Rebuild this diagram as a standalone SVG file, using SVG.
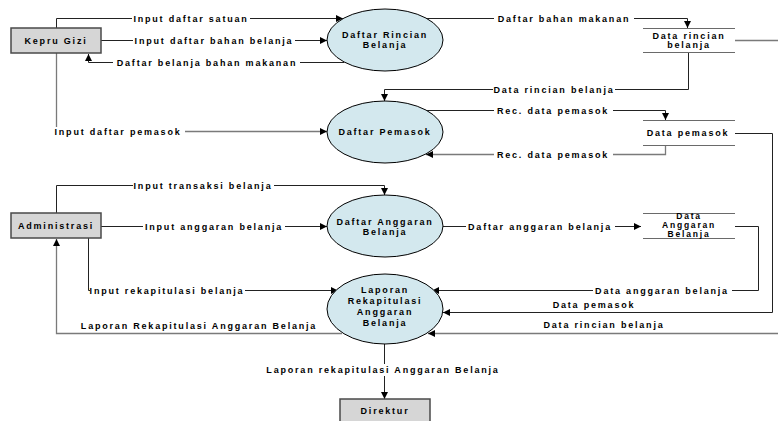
<svg xmlns="http://www.w3.org/2000/svg" width="778" height="421" viewBox="0 0 778 421">
<style>
text{font-family:"Liberation Sans",Arial,sans-serif;font-weight:bold;font-size:9px;letter-spacing:1.8px;fill:#000;text-anchor:middle}
.bg{fill:#fff;stroke:none}
.proc{fill:#d3e8ee;stroke:#000;stroke-width:1}
.ent{fill:#d6d6d6;stroke:#4a4a4a;stroke-width:1.5}
.store{stroke:#6a6a6a;stroke-width:1;fill:none}
.c{fill:none;stroke:#222;stroke-width:1}
.g{fill:none;stroke:#7a7a7a;stroke-width:1.3}
.a{marker-end:url(#arr)}
</style>
<defs>
<marker id="arr" markerUnits="userSpaceOnUse" markerWidth="8" markerHeight="7" refX="7" refY="3.5" orient="auto">
<path d="M0,0 L7,3.5 L0,7 z" fill="#000"/>
</marker>
</defs>

<g id="connectors">
<path class="c a" d="M56.5,28 V18.5 H343"/>
<path class="c a" d="M101,40.5 H327"/>
<path class="c a" d="M344,62.5 H88.5 V54"/>
<path class="g a" d="M56.5,53 V131.5 H327"/>
<path class="c a" d="M426,18.5 H687.5 V28"/>
<path class="c a" d="M688.5,52 V89.5 H384.5 V101"/>
<path class="c a" d="M427,110.5 H665.5 V120"/>
<path class="g a" d="M665.5,145 V154.5 H426"/>
<path class="c a" d="M735,133.5 H772.5 V312.5 H443"/>
<path class="c a" d="M56.5,213 V185.5 H384.5 V195"/>
<path class="c a" d="M101,226.5 H327"/>
<path class="c a" d="M443,226.5 H641"/>
<path class="c a" d="M735,226.5 H758.5 V290.5 H432"/>
<path class="c a" d="M88.5,238 V290.5 H338"/>
<path class="g a" d="M342,333.5 H56.5 V239"/>
<path class="g a" d="M735,40.5 H780 V333.5 H428"/>
<path class="c a" d="M384.5,344 V399"/>

<rect class="bg" x="132" y="14" width="118" height="10"/>
<rect class="bg" x="133" y="36" width="162" height="10"/>
<rect class="bg" x="113" y="58" width="187" height="10"/>
<rect class="bg" x="51" y="127" width="134" height="10"/>
<rect class="bg" x="494" y="14" width="140" height="10"/>
<rect class="bg" x="493" y="85" width="122" height="10"/>
<rect class="bg" x="494" y="106" width="119" height="10"/>
<rect class="bg" x="494" y="150" width="119" height="10"/>
<rect class="bg" x="133" y="181" width="141" height="10"/>
<rect class="bg" x="143" y="222" width="142" height="10"/>
<rect class="bg" x="466" y="222" width="149" height="10"/>
<rect class="bg" x="593" y="286" width="139" height="10"/>
<rect class="bg" x="90" y="286" width="155" height="10"/>
<rect class="bg" x="263" y="364" width="240" height="12"/>

<text x="191" y="21.5">Input daftar satuan</text>
<text x="214" y="43.5">Input daftar bahan belanja</text>
<text x="207" y="65.5">Daftar belanja bahan makanan</text>
<text x="118" y="134.5">Input daftar pemasok</text>
<text x="564" y="21.5">Daftar bahan makanan</text>
<text x="554" y="92.5">Data rincian belanja</text>
<text x="553" y="113.5">Rec. data pemasok</text>
<text x="553" y="157.5">Rec. data pemasok</text>
<text x="203" y="188.5">Input transaksi belanja</text>
<text x="214" y="229.5">Input anggaran belanja</text>
<text x="540" y="229.5">Daftar anggaran belanja</text>
<text x="662" y="293.5">Data anggaran belanja</text>
<text x="167" y="293.5">Input rekapitulasi belanja</text>
<text x="594" y="308">Data pemasok</text>
<text x="199" y="329">Laporan Rekapitulasi Anggaran Belanja</text>
<text x="604" y="328">Data rincian belanja</text>
<text x="383" y="373">Laporan rekapitulasi Anggaran Belanja</text>
</g>

<g id="kepru-gizi">
<rect class="ent" x="11" y="28" width="90" height="25"/>
<text x="56" y="43.5">Kepru Gizi</text>
</g>
<g id="administrasi">
<rect class="ent" x="11" y="213" width="90" height="25"/>
<text x="56" y="228.5">Administrasi</text>
</g>
<g id="direktur">
<rect class="ent" x="340" y="399" width="90" height="26"/>
<text x="385" y="414">Direktur</text>
</g>

<g id="daftar-rincian-belanja">
<ellipse class="proc" cx="385" cy="40" rx="58" ry="31"/>
<text x="385" y="38">Daftar Rincian</text>
<text x="385" y="48">Belanja</text>
</g>
<g id="daftar-pemasok">
<ellipse class="proc" cx="385" cy="132" rx="58" ry="31"/>
<text x="385" y="135">Daftar Pemasok</text>
</g>
<g id="daftar-anggaran-belanja">
<ellipse class="proc" cx="385" cy="226" rx="58" ry="31"/>
<text x="385" y="225">Daftar Anggaran</text>
<text x="385" y="235">Belanja</text>
</g>
<g id="laporan-rekapitulasi">
<ellipse class="proc" cx="385" cy="309" rx="58" ry="35"/>
<text x="385" y="293">Laporan</text>
<text x="385" y="304">Rekapitulasi</text>
<text x="385" y="315">Anggaran</text>
<text x="385" y="326">Belanja</text>
</g>

<g id="data-rincian-belanja">
<path class="store" d="M643,28.5 H735 M643,52.5 H735"/>
<text x="689" y="38.5">Data rincian</text>
<text x="689" y="47.5">belanja</text>
</g>
<g id="data-pemasok">
<path class="store" d="M643,120.5 H735 M643,145.5 H735"/>
<text x="688" y="136">Data pemasok</text>
</g>
<g id="data-anggaran-belanja">
<path class="store" d="M643,213.5 H735 M643,238.5 H735"/>
<text x="689" y="219" style="font-size:8.5px">Data</text>
<text x="689" y="228" style="font-size:8.5px">Anggaran</text>
<text x="689" y="236.5" style="font-size:8.5px">Belanja</text>
</g>
</svg>
